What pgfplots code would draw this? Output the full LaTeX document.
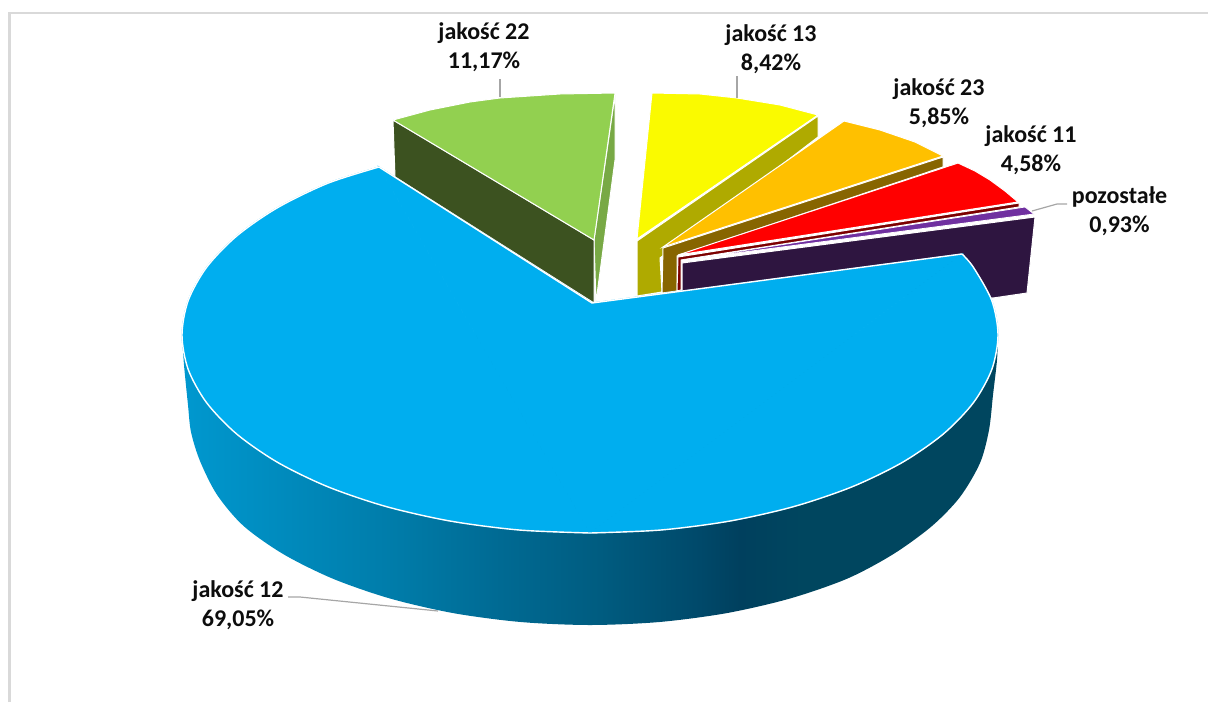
\documentclass[border=0pt]{standalone}
\usepackage{pgfplots}
\usepackage{pgfplotstable}
\usepackage{fontspec}
\setmainfont{Carlito}
\pgfplotsset{compat=1.18}
\definecolor{bluetop}{HTML}{00AEEF}
\definecolor{frameg}{HTML}{D9D9D9}
\definecolor{leader}{HTML}{A6A6A6}
\definecolor{sA}{HTML}{0098CF}
\definecolor{sB}{HTML}{007BA8}
\definecolor{sC}{HTML}{006A93}
\definecolor{sD}{HTML}{005C80}
\definecolor{sE}{HTML}{00496A}
\definecolor{sF}{HTML}{00405E}
\definecolor{sG}{HTML}{00465F}
\pgfdeclarehorizontalshading{sideblue}{100bp}{color(0bp)=(sA);color(25bp)=(sA);color(38.4bp)=(sB);color(44.5bp)=(sC);color(50.6bp)=(sD);color(56.7bp)=(sE);color(59.2bp)=(sF);color(63bp)=(sG);color(100bp)=(sG)}
\pgfplotstableread{
x y
962 254
973.4 267.3
991.8 300.6
998 335
991.8 369.4
973.4 402.7
943.3 434
902.5 462.3
852.3 486.7
794 506.5
729.5 521.1
660.8 530
590 533
}\arcR
\pgfplotstableread{
x y
590 533
519.2 530
450.5 521.1
386 506.5
327.7 486.7
277.5 462.3
236.7 434
206.6 402.7
188.2 369.4
182 335
188.2 300.6
206.6 267.3
236.7 236
277.5 207.7
327.7 183.3
379 167
}\arcL
\pgfplotstableread{
x y
998 335
997 360
993 395
989 430
980 463
960 497
932 526
893 554.3
847.1 578.7
790 598.5
726.8 613.1
659.4 622
590 625
520.6 622
453.2 613.1
390 598.5
332.9 578.7
283.6 554.3
243.6 526
217 494.7
200 461
191 432
188 405
184 365
182 335
}\sideoutline
\newcommand{\lab}[3]{\node[align=center,font=\fontsize{24}{29}\selectfont\bfseries,text=black!95] at (axis cs:#1,#2) {#3};}
\begin{document}
\begin{tikzpicture}
\begin{axis}[hide axis,scale only axis,width=1208pt,height=702pt,xmin=0,xmax=1208,ymin=0,ymax=702,y dir=reverse,no markers,clip=true]
% page extent
\addplot[white,line width=0pt] coordinates {(0,0) (1208,0) (1208,702) (0,702) (0,0)};
% frame
\addplot[frameg,line width=2.2pt] coordinates {(9.5,702) (9.5,13) (1208,13)};
% green
\addplot[fill={rgb,255:red,120;green,169;blue,69},draw=white,line width=1pt] coordinates {(615,95) (594,240) (596,302) (615,160) (615,95)};
\addplot[fill={rgb,255:red,60;green,82;blue,32},draw=white,line width=1pt] coordinates {(393,120) (594,240) (594,303) (395,177) (393,120)};
\addplot[fill={rgb,255:red,146;green,208;blue,80},draw=white,line width=1pt] coordinates {(393,120) (430,110) (470,102) (500,98) (560,94) (615,93) (594,240) (393,120)};
% yellow
\addplot[fill={rgb,255:red,175;green,170;blue,0},draw=white,line width=1pt] coordinates {(637,241) (818,116) (818,137) (660,258) (662,292) (637,296) (637,241)};
\addplot[fill={rgb,255:red,250;green,250;blue,0},draw=white,line width=1pt] coordinates {(652,93) (700,94) (737,98) (780,105) (818,115) (637,239) (652,93)};
% orange
\addplot[fill={rgb,255:red,135;green,101;blue,0},draw=white,line width=1pt] coordinates {(663,248) (943,157) (943,167) (677,256) (677,291) (662,293) (663,248)};
\addplot[fill={rgb,255:red,255;green,192;blue,0},draw=white,line width=1pt] coordinates {(844,121) (880,130) (915,142) (943,156) (663,247) (844,121)};
% red
\addplot[fill={rgb,255:red,124;green,0;blue,0},draw=white,line width=1pt] coordinates {(678,257) (1019,203) (1019,207) (681,260) (681,290) (677,291) (678,257)};
\addplot[fill=red,draw=white,line width=1pt] coordinates {(958,163) (975,171) (990,180) (1005,191) (1018,202) (678,255) (958,163)};
% purple
\addplot[fill={rgb,255:red,46;green,21;blue,64},draw=white,line width=1pt] coordinates {(682,263) (1035,217) (1027,293) (993,298) (682,292) (682,263)};
\addplot[fill={rgb,255:red,112;green,48;blue,160},draw=white,line width=.8pt] coordinates {(1025,207) (1034,214) (683,260) (1025,207)};
% blue side
\addplot[smooth,shade,shading=sideblue,draw=none] table[x=x,y=y] {\sideoutline};
% blue top
\addplot[smooth,fill=bluetop,draw=bluetop,line width=1pt] table[x=x,y=y] {\arcR};
\addplot[smooth,fill=bluetop,draw=bluetop,line width=1pt] table[x=x,y=y] {\arcL};
\addplot[fill=bluetop,draw=bluetop,line width=1pt] coordinates {(592,303) (962,254) (590,533) (379,167) (592,303)};
\addplot[smooth,draw=white,line width=1.4pt] table[x=x,y=y] {\arcR};
\addplot[smooth,draw=white,line width=1.4pt] table[x=x,y=y] {\arcL};
\addplot[draw=white,line width=1.4pt] coordinates {(379,167) (592,303) (962,254)};
% leaders
\addplot[leader,line width=1.2pt] coordinates {(500,79) (500,97)};
\addplot[leader,line width=1.2pt] coordinates {(737,76) (737,98)};
\addplot[leader,line width=1.2pt] coordinates {(1032,211) (1057,204) (1067,204)};
\addplot[leader,line width=1.2pt] coordinates {(288,597) (300,597) (438,611)};
% labels
\lab{484}{47}{jakość 22\\11,17\%}
\lab{771}{49}{jakość 13\\8,42\%}
\lab{939}{103}{jakość 23\\5,85\%}
\lab{1031}{150}{jakość 11\\4,58\%}
\lab{1119.5}{211}{pozostałe\\0,93\%}
\lab{238}{605}{jakość 12\\69,05\%}
\end{axis}
\end{tikzpicture}
\end{document}
